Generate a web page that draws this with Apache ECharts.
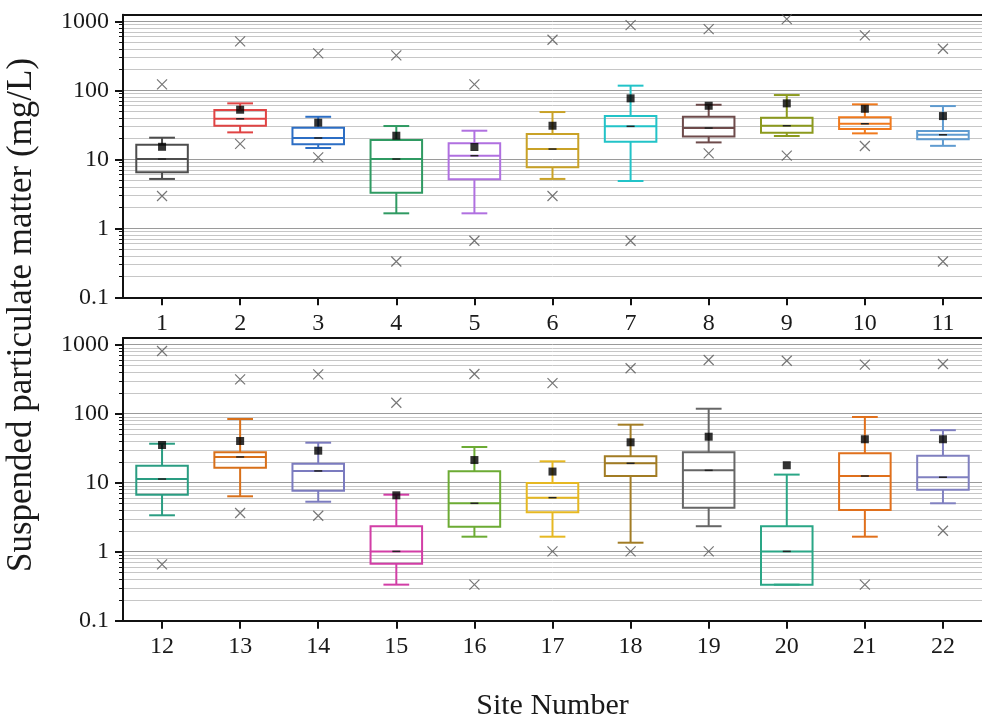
<!DOCTYPE html>
<html>
<head>
<meta charset="utf-8">
<script src="https://cdn.jsdelivr.net/npm/echarts@6/dist/echarts.min.js"></script>
<style>
  html, body { margin: 0; padding: 0; background: #fff; }
  #chart { width: 982px; height: 722px; }
</style>
</head>
<body>
<div id="chart"></div>
<script>
// site numbers
var sitesTop = ['1','2','3','4','5','6','7','8','9','10','11'];
var sitesBottom = ['12','13','14','15','16','17','18','19','20','21','22'];
var decadeTicks = [0.1, 1, 10, 100, 1000];

// box statistics, sites 1..22 (mg/L)
var whiskLow  = [5.2, 24.6, 14.6, 1.65, 1.65, 5.2, 4.85, 17.6, 21.8, 23.8, 15.7, 3.37, 6.35, 5.3, 0.333, 1.65, 1.65, 1.35, 2.34, 0.333, 1.65, 5.03];
var q1        = [6.5, 30.7, 16.5, 3.28, 5.13, 7.66, 18, 21.5, 24.3, 27.5, 19.5, 6.7, 16.5, 7.66, 0.67, 2.3, 3.72, 12.5, 4.35, 0.333, 4.02, 7.9];
var median    = [10.1, 38.7, 20.4, 10.1, 11.3, 14.1, 30.1, 28.4, 30.7, 32.8, 22.7, 11.3, 23.6, 14.8, 1.01, 5.03, 6.07, 19.1, 15.1, 1.01, 12.5, 12];
var q3        = [16.3, 51.8, 28.7, 19.0, 17.1, 23.3, 42.4, 41.4, 40.1, 40.6, 25.7, 17.6, 27.6, 18.8, 2.34, 14.6, 9.9, 24.2, 27.6, 2.34, 26.7, 24.6];
var whiskHigh = [20.6, 64.8, 41.4, 30.4, 26, 48.5, 117, 61.8, 85.5, 62.7, 59.2, 36.7, 83.8, 38, 6.7, 32.9, 20.4, 69.3, 118, 13.1, 89.5, 57.7];
var meanVal   = [15.2, 52.4, 34, 22, 15.1, 30.7, 76.6, 59.8, 64.8, 54.1, 42.4, 35.2, 40.2, 29.1, 6.56, 21.3, 14.5, 38.5, 46.4, 17.9, 42.6, 42.6];
// outliers (max / min), null = none
var outHigh = [122, 513, 344, 321, 122, 542, 884, 773, 1079, 627, 401, 811, 315, 372, 144, 376, 278, 455, 600, 586, 513, 525];
var outLow  = [2.94, 16.8, 10.7, 0.33, 0.66, 2.94, 0.66, 12.2, 11.3, 15.6, 0.33, 0.656, 3.64, 3.32, null, 0.333, 1.01, 1.01, 1.01, null, 0.333, 2.01];

var boxColors = ['#4d4d4d','#e04444','#2c6ec4','#2f9a62','#b070e0','#c9a227','#22c3c8','#6e4b4b','#8c9a1e','#f07a1e','#5f9bd0',
                 '#2a9d82','#d8701a','#7b7bbf','#d23ea6','#6cab34','#e6b822','#a27c24','#666666','#2aa686','#e0701c','#8080c0'];

var FONT = 'Liberation Serif';

function boxData(from) {
  var out = [];
  for (var i = 0; i < 11; i++) {
    var k = from + i;
    out.push([i, whiskLow[k], q1[k], median[k], q3[k], whiskHigh[k], k]);
  }
  return out;
}
function pointData(from, arr) {
  var out = [];
  for (var i = 0; i < 11; i++) {
    if (arr[from + i] != null) out.push([i, arr[from + i]]);
  }
  return out;
}

function renderBox(params, api) {
  var idx = api.value(0);
  var col = boxColors[api.value(6)];
  var hw = api.size([1, 0])[0] * 0.33;
  var pLow = api.coord([idx, api.value(1)]);
  var pQ1 = api.coord([idx, api.value(2)]);
  var pMed = api.coord([idx, api.value(3)]);
  var pQ3 = api.coord([idx, api.value(4)]);
  var pHigh = api.coord([idx, api.value(5)]);
  var cx = pMed[0];
  var st = { stroke: col, lineWidth: 2, fill: null };
  var kids = [
    { type: 'line', shape: { x1: cx, y1: pQ3[1], x2: cx, y2: pHigh[1] }, style: st },
    { type: 'line', shape: { x1: cx - hw / 2, y1: pHigh[1], x2: cx + hw / 2, y2: pHigh[1] }, style: st },
    { type: 'line', shape: { x1: cx, y1: pQ1[1], x2: cx, y2: pLow[1] }, style: st },
    { type: 'line', shape: { x1: cx - hw / 2, y1: pLow[1], x2: cx + hw / 2, y2: pLow[1] }, style: st },
    { type: 'rect', shape: { x: cx - hw, y: pQ3[1], width: hw * 2, height: pQ1[1] - pQ3[1] }, style: { stroke: col, lineWidth: 2, fill: 'rgba(255,255,255,0)' } },
    { type: 'line', shape: { x1: cx - hw, y1: pMed[1], x2: cx + hw, y2: pMed[1] }, style: st },
    { type: 'line', shape: { x1: cx - 4, y1: pMed[1], x2: cx + 4, y2: pMed[1] }, style: { stroke: '#222', lineWidth: 1.5 } }
  ];
  return { type: 'group', children: kids };
}

function makeX(gi, data) {
  return [{
    type: 'category', gridIndex: gi, data: data, position: 'bottom',
    boundaryGap: true,
    axisLine: { show: true, lineStyle: { color: '#111', width: 2 } },
    axisTick: { show: true, alignWithLabel: true, length: 8, inside: false, lineStyle: { color: '#111', width: 2 } },
    axisLabel: { color: '#1a1a1a', fontFamily: FONT, fontSize: 24, margin: 14 },
    splitLine: { show: false },
    name: gi === 1 ? 'Site Number' : '',
    nameLocation: 'middle', nameGap: 70,
    nameTextStyle: { color: '#1a1a1a', fontFamily: FONT, fontSize: 30 }
  }, {
    type: 'category', gridIndex: gi, data: data, position: 'top',
    axisLine: { show: true, lineStyle: { color: '#111', width: 2 } },
    axisTick: { show: false }, axisLabel: { show: false }, splitLine: { show: false }
  }];
}

function makeY(gi) {
  return {
    type: 'log', logBase: 10, gridIndex: gi, min: 0.1, max: 1250,
    axisLine: { show: true, lineStyle: { color: '#111', width: 2 } },
    axisTick: { show: true, length: 8, customValues: decadeTicks, lineStyle: { color: '#111', width: 2 } },
    minorTick: { show: true, splitNumber: 9, length: 4, lineStyle: { color: '#111', width: 1 } },
    axisLabel: {
      color: '#1a1a1a', fontFamily: FONT, fontSize: 24, margin: 14, showMaxLabel: false,
      formatter: function (v) {
        var lg = Math.log(v) / Math.LN10;
        return Math.abs(lg - Math.round(lg)) < 1e-6 ? String(v) : '';
      }
    },
    splitLine: { show: true, lineStyle: { color: '#9a9a9a', width: 1 } },
    minorSplitLine: { show: true, lineStyle: { color: '#c6c6c6', width: 1 } }
  };
}

var xs = makeX(0, sitesTop).concat(makeX(1, sitesBottom));

var series = [];
[0, 1].forEach(function (gi) {
  var from = gi * 11;
  var xTop = gi * 2;
  series.push({
    type: 'custom', xAxisIndex: xTop, yAxisIndex: gi,
    renderItem: renderBox, data: boxData(from), silent: true, z: 3
  });
  series.push({
    type: 'scatter', xAxisIndex: xTop, yAxisIndex: gi,
    data: pointData(from, meanVal), symbol: 'rect', symbolSize: 8,
    itemStyle: { color: '#000' }, silent: true, z: 5
  });
  series.push({
    type: 'scatter', xAxisIndex: xTop, yAxisIndex: gi,
    data: pointData(from, outHigh).concat(pointData(from, outLow)),
    symbol: 'path://M0 0L10 10M10 0L0 10', symbolSize: 10,
    itemStyle: { color: 'rgba(0,0,0,0)', borderColor: '#555', borderWidth: 1.2 },
    silent: true, z: 4
  });
});

var chart = echarts.init(document.getElementById('chart'));
chart.setOption({
  animation: false,
  backgroundColor: '#fff',
  grid: [
    { left: 123, top: 14.7, width: 867, height: 282.6 },
    { left: 123, top: 338, width: 867, height: 282.7 }
  ],
  xAxis: xs,
  yAxis: [makeY(0), makeY(1)],
  graphic: [{
    type: 'text', x: 22, y: 315, rotation: Math.PI / 2,
    style: {
      text: 'Suspended particulate matter (mg/L)', fill: '#1a1a1a',
      font: '35px "Liberation Serif"', textAlign: 'center', textVerticalAlign: 'middle'
    }
  }],
  series: series
});
</script>
</body>
</html>
